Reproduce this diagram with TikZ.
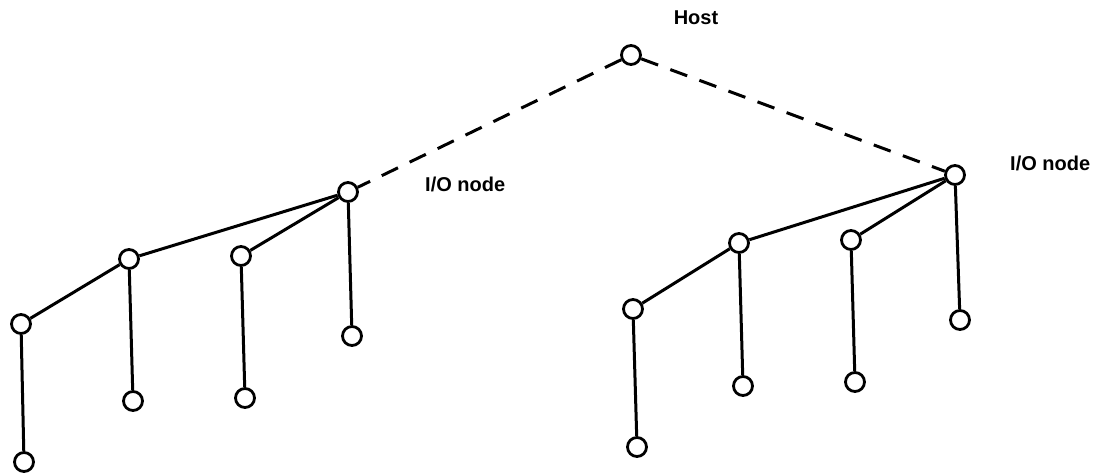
\documentclass[tikz,border=0pt]{standalone}
\usepackage{fontspec}
\setmainfont{Liberation Sans}
\begin{document}
\begin{tikzpicture}[x=1pt,y=-1pt,
  nd/.style={circle,draw,line width=2.8pt,minimum size=19pt,inner sep=0pt,fill=white},
  lnk/.style={line width=3pt},
  dlnk/.style={line width=3pt,dash pattern=on 18pt off 13pt},
  lbl/.style={font=\fontsize{20}{22}\selectfont\bfseries,inner sep=0pt}]
\useasboundingbox (0,0) rectangle (1108,473);
% host
\node[nd] (host) at (631,55) {};
\node[lbl] (hostl) at (696,18) {Host};
% left tree
\node[nd] (lio) at (348,192) {};
\node[lbl,anchor=west] (liol) at (425,184) {I/O node};
\node[nd] (la) at (129,259) {};
\node[nd] (lb) at (241,256) {};
\node[nd] (lc) at (352,336) {};
\node[nd] (ld) at (21,324) {};
\node[nd] (le) at (133,401) {};
\node[nd] (lf) at (245,398) {};
\node[nd] (lg) at (24,462) {};
% right tree
\node[nd] (rio) at (955,175) {};
\node[lbl,anchor=west] (riol) at (1010,163) {I/O node};
\node[nd] (ra) at (739,243) {};
\node[nd] (rb) at (851,240) {};
\node[nd] (rc) at (960,320) {};
\node[nd] (rd) at (633,309) {};
\node[nd] (re) at (743,386) {};
\node[nd] (rf) at (855,382) {};
\node[nd] (rg) at (637,447) {};
% dashed
\draw[dlnk] (host) -- (lio);
\draw[dlnk] (host) -- (rio);
% left links
\draw[lnk] (lio) -- (la);
\draw[lnk] (lio) -- (lb);
\draw[lnk] (lio) -- (lc);
\draw[lnk] (la) -- (ld);
\draw[lnk] (la) -- (le);
\draw[lnk] (lb) -- (lf);
\draw[lnk] (ld) -- (lg);
% right links
\draw[lnk] (rio) -- (ra);
\draw[lnk] (rio) -- (rb);
\draw[lnk] (rio) -- (rc);
\draw[lnk] (ra) -- (rd);
\draw[lnk] (ra) -- (re);
\draw[lnk] (rb) -- (rf);
\draw[lnk] (rd) -- (rg);
\end{tikzpicture}
\end{document}
